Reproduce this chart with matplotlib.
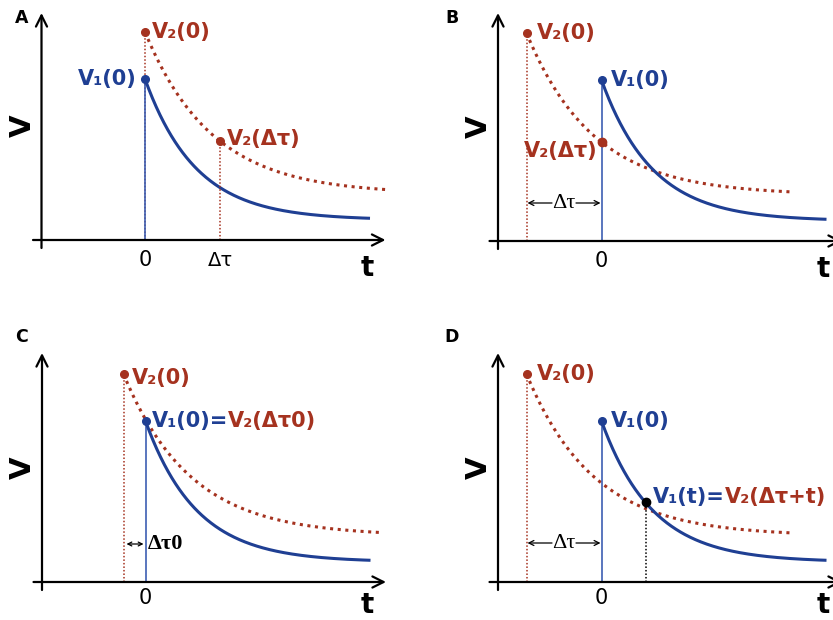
import numpy as np
import matplotlib
matplotlib.use("Agg")
import matplotlib.pyplot as plt

# ---------------- data (arbitrary units) ----------------
panel_names = ["A", "B", "C", "D"]
V1_start = 161.0      # V1(0)
V2_start = 208.0      # V2(0)
V1_floor = 20.0       # asymptote of V1
V2_floor = 46.0       # asymptote of V2
tau1 = 51.0           # decay constant of V1
tau2 = 67.0           # decay constant of V2
dtau = 75.0           # delay Δτ
dtau0 = 22.0          # delay Δτ0 (panel C)
t_match = 44.0        # t where V1(t)=V2(Δτ+t) (panel D)
red_shift = [0.0, -dtau, -dtau0, -dtau]     # start of V2 curve relative to V1 onset
red_end = [241.0, 192.0, 235.0, 192.0]      # last drawn time of V2 curve
blue_end = [225.0, 225.0, 225.0, 225.0]     # last drawn time of V1 curve

BLUE = "#1f3f93"
BLUE_L = "#3d5fb3"
RED = "#a5321f"
W, H = 833, 620

fig = plt.figure(figsize=(W / 100, H / 100), dpi=100)

def V1(t):
    return V1_floor + (V1_start - V1_floor) * np.exp(-t / tau1)

def V2(t):
    return V2_floor + (V2_start - V2_floor) * np.exp(-t / tau2)

def panel(ox, oy, px0, px1, py0, py1):
    ax = fig.add_axes([px0 / W, 1 - py1 / H, (px1 - px0) / W, (py1 - py0) / H])
    ax.set_xlim(px0 - ox, px1 - ox)
    ax.set_ylim(oy - py1, oy - py0)
    ax.axis("off")
    return ax

# pixel geometry of the four panels: onset x, axis y, box
geo = [
    (145.0, 240.0, 0, 420, 0, 310),
    (601.5, 241.0, 456, 876, 0, 310),
    (145.5, 582.0, 0, 420, 315, 620),
    (601.5, 582.0, 456, 876, 315, 620),
]
letter_pos = [(22, 18), (452, 18), (22, 337), (452, 337)]

lab_font = dict(family="DejaVu Sans", fontweight="bold", fontsize=15)
ser_font = dict(family="Liberation Serif", fontsize=16)
dot_red = (0, (1, 1.5))

for i, (ox, oy, a, b, c, d) in enumerate(geo):
    ax = panel(ox, oy, a, b, c, d)
    top = oy - (13 if i < 2 else 353)
    # axes arrows
    ax.annotate("", xy=(-103.5, top), xytext=(-103.5, -8),
                arrowprops=dict(arrowstyle="->", lw=1.6, color="k", mutation_scale=20,
                                shrinkA=0, shrinkB=0), annotation_clip=False)
    ax.annotate("", xy=(240.5, 0), xytext=(-112, 0),
                arrowprops=dict(arrowstyle="->", lw=1.6, color="k", mutation_scale=20,
                                shrinkA=0, shrinkB=0), annotation_clip=False)
    ax.text(-122.5, 114, "V", rotation=90, ha="center", va="center",
            fontsize=21, fontweight="bold", family="DejaVu Sans")
    ax.text(222, -28 if i < 2 else -23, "t", ha="center", va="center",
            fontsize=20, fontweight="bold", family="DejaVu Sans")
    fig.text(letter_pos[i][0] / W, 1 - letter_pos[i][1] / H, panel_names[i],
             ha="center", va="center", fontsize=12.5, fontweight="bold")
    tick_y = -20 if i < 2 else -16
    ax.text(0, tick_y, "0", ha="center", va="center", fontsize=15)

    s = red_shift[i]
    # V2 curve (dotted red)
    tr = np.linspace(s, red_end[i], 300)
    ax.vlines(s, 0, V2_start, color=RED, lw=1.1, linestyles=(0, (1, 1.3)))
    ax.plot(tr, V2(tr - s), color=RED, lw=2.2, linestyle=dot_red)
    # V1 curve (solid blue)
    tb = np.linspace(0, blue_end[i], 300)
    ax.vlines(0, 0, V1_start, color=BLUE_L, lw=1.2)
    ax.plot(tb, V1(tb), color=BLUE, lw=2.2, solid_capstyle="butt")
    ax.plot([s], [V2_start], "o", color=RED, ms=5.5)
    ax.plot([0], [V1_start], "o", color=BLUE, ms=5.5)

    if i == 0:
        ax.text(7, V2_start, "V₂(0)", color=RED, ha="left", va="center", **lab_font)
        ax.text(-8, V1_start, "V₁(0)", color=BLUE, ha="right", va="center", **lab_font)
        vd = V2(dtau)
        ax.vlines(dtau, 0, vd, color=RED, lw=1.1, linestyles=(0, (1, 1.3)))
        ax.plot([dtau], [vd], "o", color=RED, ms=5.5)
        ax.text(dtau + 7, vd + 2, "V₂(Δτ)", color=RED, ha="left", va="center", **lab_font)
        ax.text(dtau, tick_y, "Δτ", ha="center", va="center", fontsize=14)
    elif i == 1 or i == 3:
        ax.text(s + 10, V2_start, "V₂(0)", color=RED, ha="left", va="center", **lab_font)
        ax.text(9.5, V1_start, "V₁(0)", color=BLUE, ha="left", va="center", **lab_font)
        ay = 38 if i == 1 else 39
        ax.text(s / 2, ay, "Δτ", ha="center", va="center", **ser_font)
        ax.annotate("", xy=(s + 1, ay), xytext=(s / 2 - 12, ay),
                    arrowprops=dict(arrowstyle="->", lw=0.9, color="k", mutation_scale=9,
                                    shrinkA=0, shrinkB=0))
        ax.annotate("", xy=(-1, ay), xytext=(s / 2 + 12, ay),
                    arrowprops=dict(arrowstyle="->", lw=0.9, color="k", mutation_scale=9,
                                    shrinkA=0, shrinkB=0))
        if i == 1:
            vd = V2(dtau)
            ax.plot([0], [vd], "o", color=RED, ms=6)
            ax.text(-3.5, vd - 9, "V₂(Δτ)", color=RED, ha="right", va="center", **lab_font)
        else:
            vm = V1(t_match)
            ax.vlines(t_match, 0, vm, color="k", lw=1.1, linestyles=(0, (1, 1.3)))
            ax.plot([t_match], [vm], "o", color="k", ms=6)
            t1 = ax.text(t_match + 7.5, vm + 5, "V₁(t)=", color=BLUE, ha="left",
                         va="center", **lab_font)
            ax.annotate("V₂(Δτ+t)", xy=(1, 0), xycoords=t1, ha="left", va="bottom",
                        color=RED, **lab_font)
    else:
        ax.text(s + 8, V2_start - 4, "V₂(0)", color=RED, ha="left", va="center", **lab_font)
        t1 = ax.text(6, V1_start, "V₁(0)=", color=BLUE, ha="left", va="center", **lab_font)
        ax.annotate("V₂(Δτ0)", xy=(1, 0), xycoords=t1, ha="left", va="bottom",
                    color=RED, **lab_font)
        ay = 38
        ax.annotate("", xy=(s + 3, ay), xytext=(-2, ay),
                    arrowprops=dict(arrowstyle="<->", lw=0.9, color="k", mutation_scale=7,
                                    shrinkA=0, shrinkB=0))
        ax.text(2.5, ay, "Δτ0", ha="left", va="center", fontweight="bold", **ser_font)

fig.savefig("out.png", dpi=100)
